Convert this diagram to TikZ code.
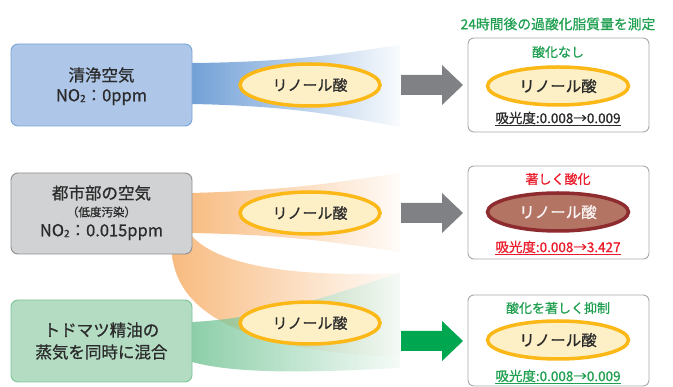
\documentclass[tikz,border=0pt]{standalone}
\usepackage{fontspec}
\setmainfont{Noto Sans CJK JP}[FakeBold=0.8]
\usetikzlibrary{shapes.geometric}
\definecolor{bluebox}{HTML}{AEC6E7}
\definecolor{blueline}{HTML}{7BA3D8}
\definecolor{bluefun}{HTML}{6E9ED6}
\definecolor{graybox}{HTML}{D1D2D4}
\definecolor{grayline}{HTML}{8E8E90}
\definecolor{orfun}{HTML}{F8BB80}
\definecolor{greenbox}{HTML}{B3DCC3}
\definecolor{greenline}{HTML}{7CC59A}
\definecolor{grfun}{HTML}{5CBA84}
\definecolor{ellfill}{HTML}{FDEFC6}
\definecolor{ellline}{HTML}{FBB817}
\definecolor{brownfill}{HTML}{B47464}
\definecolor{brownline}{HTML}{8D2B2F}
\definecolor{arrgray}{HTML}{808184}
\definecolor{arrgreen}{HTML}{00A650}
\definecolor{txtgreen}{HTML}{21A052}
\definecolor{txtred}{HTML}{EB1C2B}
\definecolor{txtdark}{HTML}{2B2B2B}
\definecolor{rboxline}{HTML}{A7A9AC}
\newcommand{\fsz}[1]{\fontsize{#1}{#1}\selectfont}
\newcommand{\sbtwo}{\raisebox{-0.05em}{\fontsize{10}{10}\selectfont 2}}
\begin{document}
\begin{tikzpicture}[x=1pt,y=-1pt,
  lbox/.style={draw, line width=0.9pt, rounded corners=7pt},
  rbox/.style={draw=rboxline, fill=white, line width=0.9pt, rounded corners=6pt},
  lin/.style={ellipse, draw=ellline, fill=ellfill, line width=3.5pt, minimum width=140pt, minimum height=42pt, inner sep=0pt, text=txtdark, font=\fsz{15}},
  rin/.style={ellipse, draw=ellline, fill=ellfill, line width=3.5pt, minimum width=141pt, minimum height=38pt, inner sep=0pt, text=txtdark, font=\fsz{15.5}},
  big/.style={text=txtdark, font=\fsz{16.5}, inner sep=0pt},
  small/.style={font=\fsz{13}, inner sep=0pt},
  val/.style={font=\fsz{13.5}, inner sep=0pt}
]
\useasboundingbox (0,0) rectangle (673,387);
% funnels
\shade[left color=bluefun, right color=bluefun!4] (185,63) -- (192,63) .. controls (300,62) and (350,52) .. (400,45) -- (400,127) .. controls (350,118) and (300,106) .. (192,104) -- (185,104) -- cycle;
\shade[left color=orfun, right color=orfun!5] (185,193) -- (192,193) .. controls (300,190) and (350,180) .. (400,173) -- (400,252) .. controls (350,245) and (300,235) .. (192,233) -- (185,233) -- cycle;
\shade[left color=orfun, right color=orfun!5] (185,236) -- (192,236) .. controls (215,262) and (280,278) .. (400,273) -- (400,357) .. controls (260,352) and (178,320) .. (172,254) -- (172,250) -- cycle;
\shade[left color=grfun, right color=grfun!8, opacity=0.72] (185,322) -- (192,322) .. controls (270,318) and (330,295) .. (400,273) -- (400,368) .. controls (320,372) and (240,375) .. (192,362) -- (185,362) -- cycle;
% left boxes
\draw[lbox, draw=blueline, fill=bluebox] (11,44) rectangle (192,126);
\draw[lbox, draw=grayline, fill=graybox] (11,173) rectangle (192,254);
\draw[lbox, draw=greenline, fill=greenbox] (11,300) rectangle (192,382);
\node[big] (t1a) at (101.5,75) {清浄空気};
\node[big] (t1b) at (101.5,97) {NO\sbtwo ：0ppm};
\node[big] (t2a) at (101.5,193) {都市部の空気};
\node[big, font=\fsz{11.5}] (t2b) at (101.5,212) {（低度汚染）};
\node[big] (t2c) at (101.5,232) {NO\sbtwo ：0.015ppm};
\node[big] (t3a) at (101.5,330) {トドマツ精油の};
\node[big] (t3b) at (101.5,352) {蒸気を同時に混合};
% left ellipses
\node[lin] (e1) at (310,85) {リノール酸};
\node[lin] (e2) at (310,213) {リノール酸};
\node[lin] (e3) at (310,323) {リノール酸};
% block arrows
\fill[arrgray] (401,75) -- (442,75) -- (442,65) -- (463,85) -- (442,105) -- (442,95) -- (401,95) -- cycle;
\fill[arrgray] (401,203) -- (442,203) -- (442,193) -- (463,213) -- (442,233) -- (442,223) -- (401,223) -- cycle;
\fill[arrgreen] (401,331) -- (442,331) -- (442,321) -- (463,341) -- (442,361) -- (442,351) -- (401,351) -- cycle;
% right boxes
\draw[rbox] (468,38) rectangle (649,132);
\draw[rbox] (468,166) rectangle (649,259);
\draw[rbox] (468,295) rectangle (649,386);
\node[small, text=txtgreen, font=\fsz{13.8}] (title) at (558,24) {24時間後の過酸化脂質量を測定};
\node[small, text=txtgreen] (r1t) at (558,52) {酸化なし};
\node[rin] (r1e) at (558,86) {リノール酸};
\node[val, text=txtdark] (r1b) at (558,119) {\underline{吸光度:0.008→0.009}};
\node[small, text=txtred] (r2t) at (558,179) {著しく酸化};
\node[rin, draw=brownline, fill=brownfill, text=white!92!brownfill] (r2e) at (558,212) {リノール酸};
\node[val, text=txtred] (r2b) at (558,248) {\underline{吸光度:0.008→3.427}};
\node[small, text=txtgreen] (r3t) at (558,308) {酸化を著しく抑制};
\node[rin] (r3e) at (558,340) {リノール酸};
\node[val, text=txtgreen] (r3b) at (558,377) {\underline{吸光度:0.008→0.009}};
\end{tikzpicture}
\end{document}
